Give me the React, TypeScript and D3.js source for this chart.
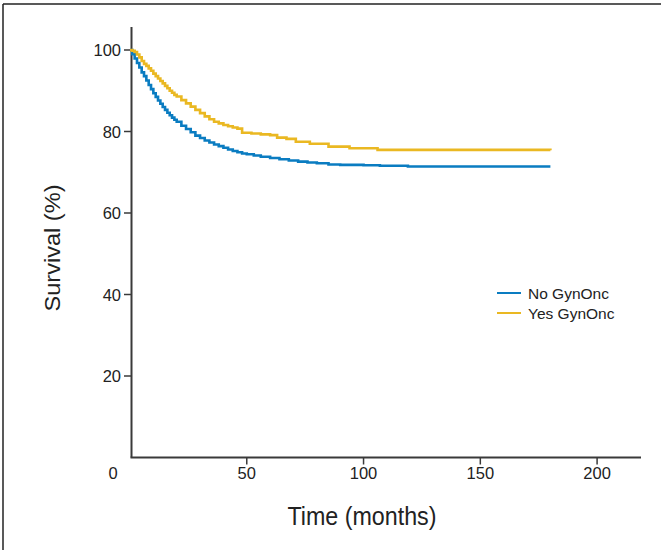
import React from "react";
import * as d3 from "d3";

const noTimes = [0,1,2,3,4,5,6,7,8,9,10,11,12,13,14,15,16,17,18,19,20,22,24,26,28,30,32,34,36,38,40,42,44,46,48,50,53,56,60,64,68,72,76,80,85,90,100,107,119,180];
const noValues = [100,99,97.9,96.8,95.7,94.5,93.6,92.5,91.4,90.4,89.4,88.5,87.6,86.8,86.0,85.3,84.6,84.0,83.4,82.9,82.4,81.4,80.6,79.8,79.0,78.4,77.8,77.3,76.8,76.4,76.0,75.6,75.2,74.9,74.6,74.4,74.1,73.8,73.5,73.2,72.9,72.6,72.4,72.2,71.9,71.8,71.7,71.6,71.4,71.4];
const yesTimes = [0,1,2,3,4,5,6,7,8,9,10,11,12,13,14,15,16,17,18,19,20,22,24,26,28,30,32,34,36,38,40,42,44,46,48,52,56,60,63,67,71,77,85,94,106,180];
const yesValues = [100,99.8,99.5,98.9,98.2,97.3,96.6,96.1,95.5,94.9,94.2,93.6,93.0,92.4,91.8,91.2,90.6,90.0,89.5,89.0,88.6,87.7,86.9,86.1,85.3,84.5,83.7,83.0,82.4,82.0,81.6,81.3,81.0,80.7,79.7,79.5,79.3,79.1,78.5,78.2,77.5,77.0,76.3,75.9,75.5,75.4];

const seriesNames = ["No GynOnc", "Yes GynOnc"];
const seriesColors = ["#0a7cc1", "#eab822"];
const xTicks = [50, 100, 150, 200];
const yTicks = [20, 40, 60, 80, 100];

export default function App() {
  const x0 = 130, x1 = 641;
  const x = d3.scaleLinear().domain([0, 218.8]).range([x0, x1]);
  const y = d3.scaleLinear().domain([0, 100]).range([457.5, 50]);
  const axisTop = 27;
  const line = d3.line<[number, number]>()
    .x(d => x(d[0]))
    .y(d => y(d[1]))
    .curve(d3.curveStepAfter);
  const series = [
    noTimes.map((t, i) => [t, noValues[i]] as [number, number]),
    yesTimes.map((t, i) => [t, yesValues[i]] as [number, number]),
  ];
  const axisColor = "#3a3a3a";
  const font = "Liberation Sans, Arial, sans-serif";
  return (
    <svg width={661} height={550} style={{ position: "absolute", left: 0, top: 0, background: "#fff" }} fontFamily={font}>
      <rect x={0} y={0} width={661} height={550} fill="#fff" />
      {/* frame */}
      <line x1={3} y1={4} x2={661} y2={4} stroke="#222" strokeWidth={1.5} />
      <line x1={3} y1={4} x2={3} y2={550} stroke="#222" strokeWidth={1.5} />
      {/* axes */}
      <line x1={x0 + 1.5} y1={axisTop} x2={x0 + 1.5} y2={y(0)} stroke={axisColor} strokeWidth={2} />
      <line x1={x0 + 0.5} y1={y(0)} x2={x1} y2={y(0)} stroke={axisColor} strokeWidth={2} />
      {yTicks.map(v => (
        <g key={v}>
          <line x1={x0 - 6} x2={x0 + 1} y1={y(v)} y2={y(v)} stroke={axisColor} strokeWidth={1.5} />
          <text x={x0 - 9} y={y(v) + 6} textAnchor="end" fontSize={16.5} fill="#222">{v}</text>
        </g>
      ))}
      {xTicks.map(v => (
        <g key={v}>
          <line x1={x(v)} x2={x(v)} y1={y(0)} y2={y(0) + 7} stroke={axisColor} strokeWidth={1.5} />
          <text x={x(v)} y={479} textAnchor="middle" fontSize={16.5} fill="#222">{v}</text>
        </g>
      ))}
      <text x={113} y={479} textAnchor="middle" fontSize={16.5} fill="#222">0</text>
      {/* curves */}
      {series.map((s, i) => (
        <path key={i} d={line(s) || ""} fill="none" stroke={seriesColors[i]} strokeWidth={2.6} />
      ))}
      {/* legend */}
      {seriesNames.map((n, i) => (
        <g key={n}>
          <line x1={497} x2={521} y1={293 + i * 20} y2={293 + i * 20} stroke={seriesColors[i]} strokeWidth={2} />
          <text x={528} y={298.5 + i * 20} fontSize={15.5} fill="#222">{n}</text>
        </g>
      ))}
      {/* axis titles */}
      <text x={362} y={525} textAnchor="middle" fontSize={26} fill="#222" textLength={149} lengthAdjust="spacingAndGlyphs">Time (months)</text>
      <text transform="translate(60,248) rotate(-90)" textAnchor="middle" fontSize={22.5} fill="#222" textLength={127} lengthAdjust="spacingAndGlyphs">Survival (%)</text>
    </svg>
  );
}
